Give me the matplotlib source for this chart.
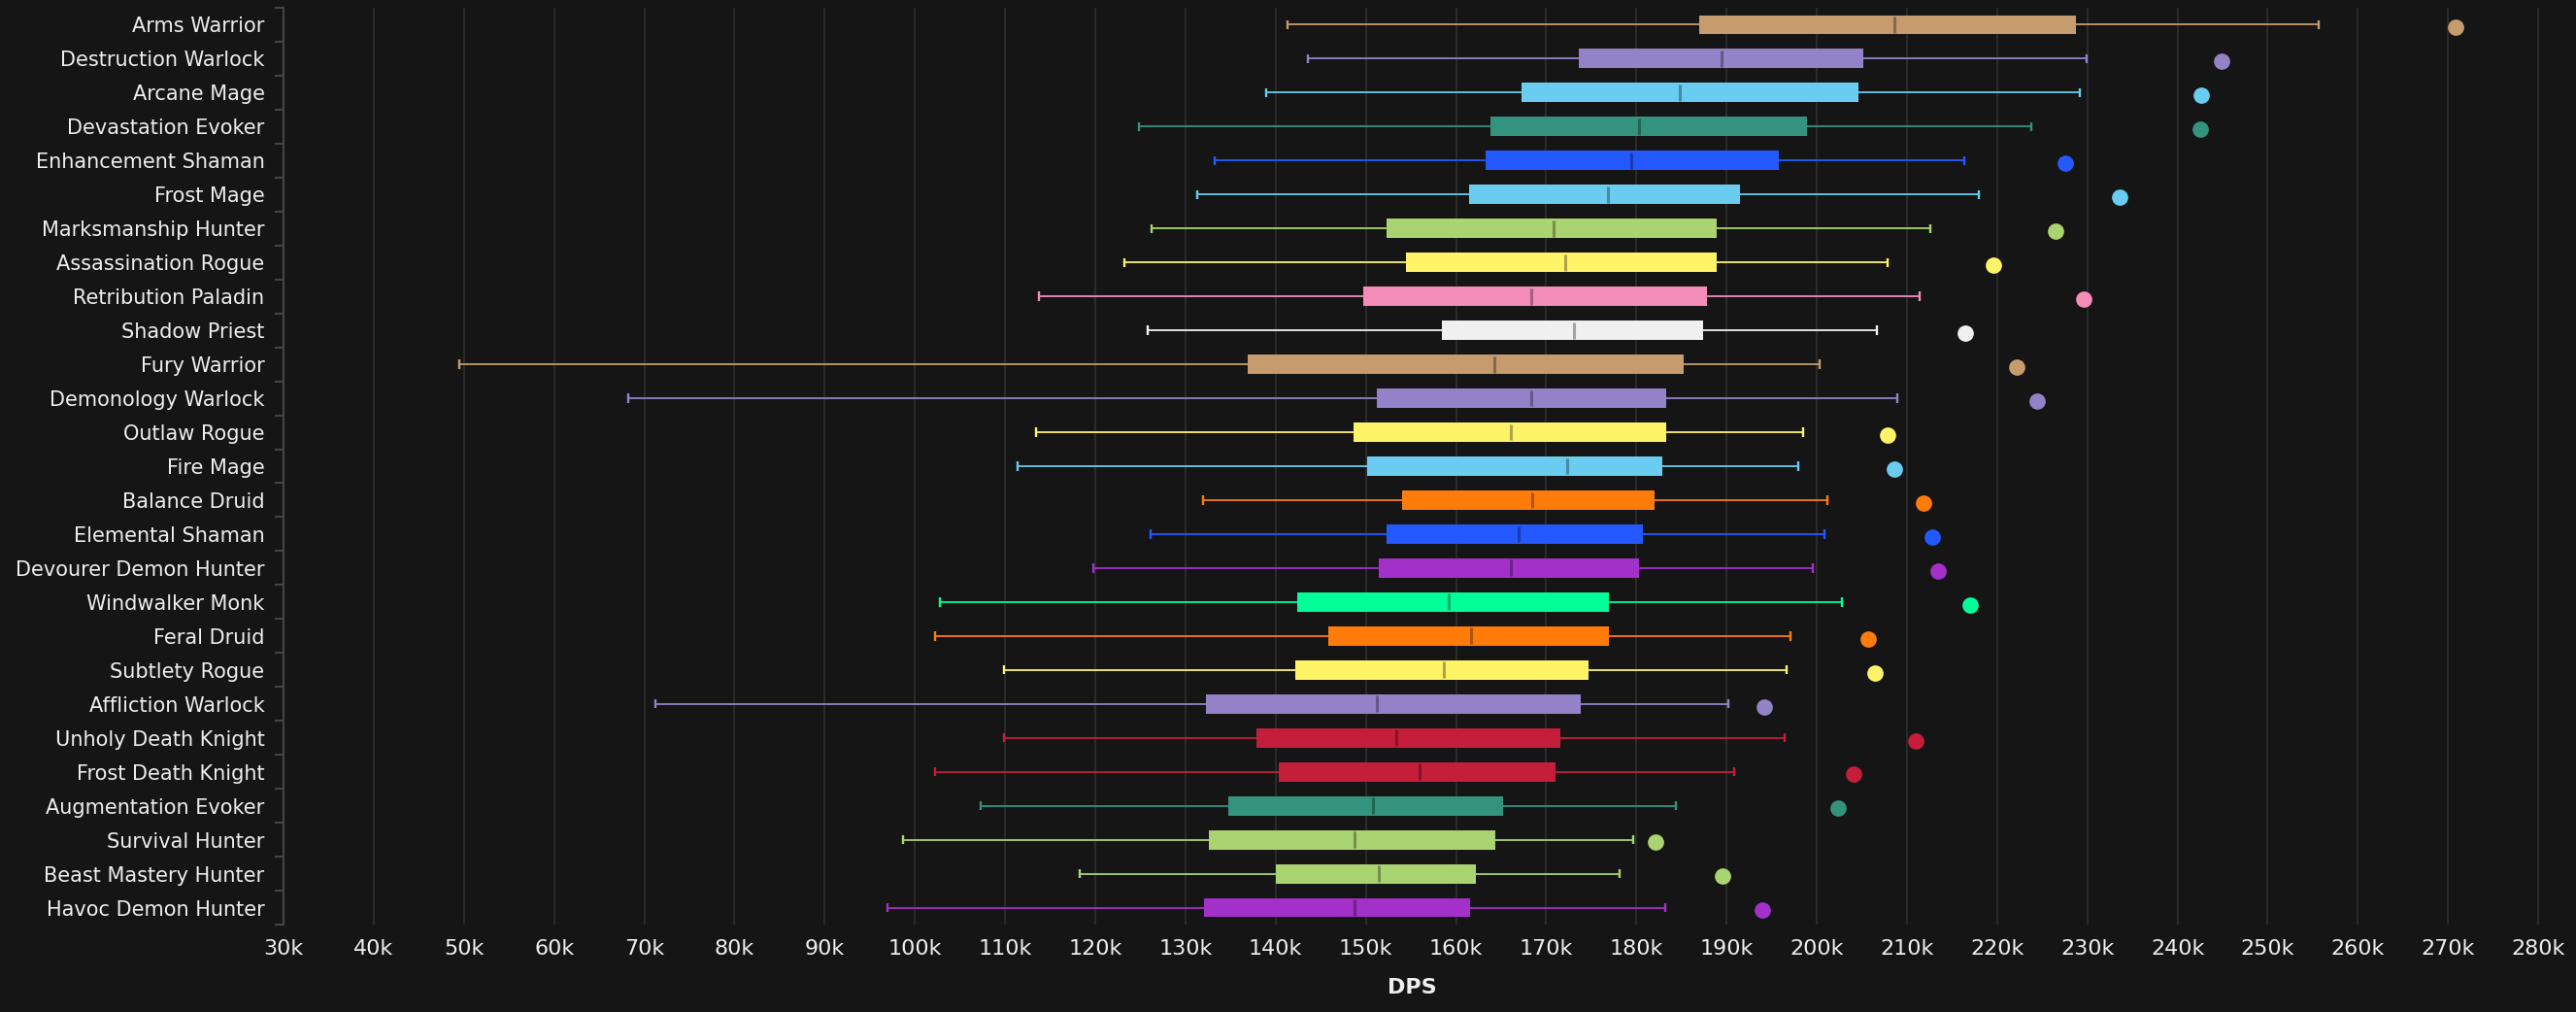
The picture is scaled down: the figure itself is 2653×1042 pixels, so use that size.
import matplotlib
matplotlib.use("Agg")
import matplotlib.pyplot as plt
import numpy as np
from matplotlib.ticker import FuncFormatter, MultipleLocator

specs = ["Arms Warrior", "Destruction Warlock", "Arcane Mage", "Devastation Evoker",
         "Enhancement Shaman", "Frost Mage", "Marksmanship Hunter", "Assassination Rogue",
         "Retribution Paladin", "Shadow Priest", "Fury Warrior", "Demonology Warlock",
         "Outlaw Rogue", "Fire Mage", "Balance Druid", "Elemental Shaman",
         "Devourer Demon Hunter", "Windwalker Monk", "Feral Druid", "Subtlety Rogue",
         "Affliction Warlock", "Unholy Death Knight", "Frost Death Knight",
         "Augmentation Evoker", "Survival Hunter", "Beast Mastery Hunter", "Havoc Demon Hunter"]

# values in thousands of DPS
whisker_low = [141.3, 143.6, 138.9, 124.9, 133.2, 131.3, 126.3, 123.2, 113.8, 125.8,
               49.5, 68.2, 113.4, 111.4, 131.9, 126.1, 119.8, 102.8, 102.2, 109.9,
               71.2, 109.9, 102.2, 107.3, 98.7, 118.3, 97.0]
q1 = [187.0, 173.6, 167.3, 163.8, 163.3, 161.4, 152.3, 154.5, 149.7, 158.4,
      136.9, 151.2, 148.6, 150.2, 154.0, 152.3, 151.4, 142.4, 145.8, 142.2,
      132.3, 137.9, 140.4, 134.7, 132.6, 140.0, 132.1]
median = [208.6, 189.4, 184.8, 180.3, 179.4, 176.8, 170.8, 172.1, 168.3, 173.1,
          164.2, 168.3, 166.1, 172.3, 168.5, 166.9, 166.1, 159.2, 161.7, 158.7,
          151.2, 153.4, 156.0, 150.8, 148.8, 151.4, 148.8]
q3 = [228.7, 205.2, 204.6, 198.9, 195.8, 191.5, 188.9, 188.9, 187.8, 187.4,
      185.2, 183.3, 183.3, 182.9, 182.0, 180.7, 180.3, 177.0, 177.0, 174.7,
      173.8, 171.6, 171.0, 165.2, 164.4, 162.2, 161.6]
whisker_high = [255.6, 229.9, 229.2, 223.8, 216.4, 218.0, 212.6, 207.8, 211.4, 206.7,
                200.3, 208.9, 198.5, 197.9, 201.2, 200.9, 199.6, 202.8, 197.1, 196.7,
                190.2, 196.4, 190.8, 184.4, 179.6, 178.1, 183.2]
outlier = [270.8, 244.9, 242.6, 242.5, 227.6, 233.6, 226.5, 219.6, 229.6, 216.5,
           222.2, 224.4, 207.9, 208.6, 211.8, 212.8, 213.4, 217.0, 205.7, 206.5,
           194.2, 211.0, 204.1, 202.4, 182.1, 189.6, 194.0]

class_colors = {
    "Warrior": "#C69B6D", "Warlock": "#9482C9", "Mage": "#69CCF0", "Evoker": "#33937F",
    "Shaman": "#2459FF", "Hunter": "#AAD372", "Rogue": "#FFF468", "Paladin": "#F48CBA",
    "Priest": "#F0F0F0", "Druid": "#FF7C0A", "Demon Hunter": "#A330C9", "Monk": "#00FF98",
    "Death Knight": "#C41E3A",
}

def color_for(name):
    for key in ["Demon Hunter", "Death Knight"]:
        if name.endswith(key):
            return class_colors[key]
    return class_colors[name.split()[-1]]

BG = "#151515"
GRID = "#313131"
TEXT = "#EEEEEE"
AX = "#444444"

plt.rcParams['font.family'] = ['DejaVu Sans']

fig = plt.figure(figsize=(26.53, 10.42), dpi=100, facecolor=BG)
ax = fig.add_axes([292/2653, 1-952/1042, (2616-292)/2653, (952-8)/1042])
ax.set_facecolor(BG)

pos = np.arange(len(specs))
box_h = 0.57
cap_h = 0.27
med_h = 0.48

for i, name in enumerate(specs):
    c = color_for(name)
    rgb = np.array(matplotlib.colors.to_rgb(c))
    dark = tuple(rgb * 0.68)
    ax.hlines(pos[i], whisker_low[i], q1[i], color=c, lw=1.3, zorder=3)
    ax.hlines(pos[i], q3[i], whisker_high[i], color=c, lw=1.3, zorder=3)
    ax.vlines([whisker_low[i], whisker_high[i]], pos[i] - cap_h/2, pos[i] + cap_h/2,
              color=c, lw=1.7, zorder=3)
    ax.barh(pos[i], q3[i] - q1[i], left=q1[i], height=box_h, color=c, zorder=4, linewidth=0)
    ax.vlines(median[i], pos[i] - med_h/2, pos[i] + med_h/2, color=dark, lw=2.2, zorder=5)
    ax.scatter([outlier[i]], [pos[i] + 0.08], s=145, color=c, zorder=5, linewidths=0)

ax.set_xlim(30, 280.2)
ax.set_ylim(len(specs) - 0.5, -0.5)

ax.xaxis.set_major_locator(MultipleLocator(10))
ax.xaxis.set_major_formatter(FuncFormatter(lambda v, p: f"{int(round(v))}k"))
ax.grid(axis='x', color=GRID, lw=1.1, zorder=0)
ax.tick_params(axis='x', length=0, colors=TEXT, labelsize=16, pad=11)

ax.set_yticks(pos)
ax.set_yticklabels(specs)
ax.set_yticks(np.arange(len(specs) + 1) - 0.5, minor=True)
ax.tick_params(axis='y', which='major', length=0, colors=TEXT, labelsize=15, pad=14)
ax.tick_params(axis='y', which='minor', length=6.5, width=1.5, color=AX)

for s in ["top", "right", "bottom"]:
    ax.spines[s].set_visible(False)
ax.spines["left"].set_color(AX)
ax.spines["left"].set_linewidth(1.5)

ax.set_xlabel("DPS", color=TEXT, fontsize=16, fontweight='semibold', labelpad=14)

fig.savefig("out.png", dpi=100, facecolor=BG)
